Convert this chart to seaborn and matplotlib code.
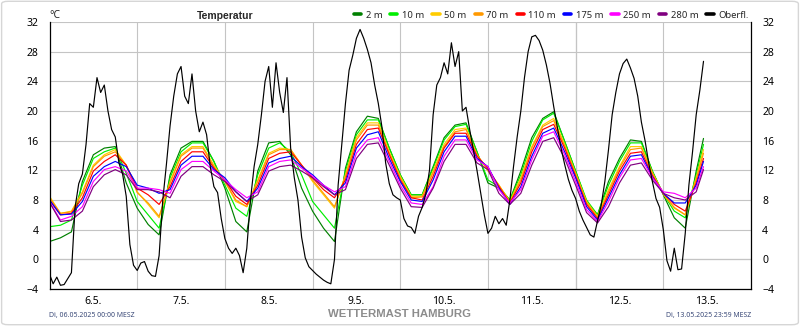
import numpy as np
import pandas as pd
import matplotlib
matplotlib.use("Agg")
import matplotlib.pyplot as plt
import seaborn as sns
from matplotlib.lines import Line2D
from matplotlib.patches import FancyBboxPatch

# Time axes: hours since Di, 06.05.2025 00:00 MESZ
hours_levels = list(range(0, 178, 3)) + [179]
hours_surface = list(range(0, 180))

# Mast temperatures (°C), 3-hourly
temp_2m = [2.4, 2.9, 3.7, 10.5, 14.1, 15.0, 15.2, 10.3, 6.9, 4.7, 3.3, 11.4, 15.0, 15.9, 15.9, 13.2,
           9.6, 5.1, 3.7, 11.9, 15.7, 15.9, 14.1, 9.6, 6.5, 4.2, 2.4, 12.3, 17.2, 19.3, 19.0, 15.0,
           11.4, 8.7, 8.7, 12.5, 16.4, 18.1, 18.4, 14.5, 10.3, 9.6, 8.0, 11.9, 16.4, 19.0, 19.9, 15.9,
           11.9, 7.8, 6.0, 10.5, 13.6, 16.1, 15.9, 11.9, 8.7, 5.6, 4.2, 11.9, 16.3]
temp_10m = [4.4, 4.6, 5.3, 10.0, 13.6, 14.5, 15.0, 11.6, 7.8, 6.0, 4.2, 11.0, 14.5, 15.7, 15.7, 13.2,
            10.0, 6.9, 5.8, 11.4, 15.0, 15.7, 14.5, 11.4, 7.8, 6.0, 4.2, 11.9, 16.8, 18.8, 18.8, 15.0,
            11.4, 8.7, 8.7, 12.3, 16.1, 17.9, 18.2, 14.5, 10.7, 9.8, 8.0, 11.4, 15.9, 18.8, 19.7, 15.9,
            11.9, 8.0, 6.0, 10.0, 13.2, 15.7, 15.7, 11.9, 8.8, 6.5, 5.6, 11.4, 15.5]
temp_50m = [8.5, 6.2, 6.5, 9.1, 12.7, 14.1, 14.8, 12.7, 9.1, 7.4, 5.6, 10.5, 14.1, 15.2, 15.2, 12.7,
            10.5, 7.8, 7.1, 10.7, 14.3, 15.0, 14.8, 12.7, 10.5, 8.7, 6.9, 11.4, 16.4, 18.4, 18.4, 14.5,
            11.2, 8.5, 8.5, 11.9, 15.5, 17.5, 17.7, 14.1, 11.9, 10.0, 7.8, 11.0, 15.2, 18.1, 19.0, 15.5,
            11.6, 7.8, 5.8, 9.4, 12.5, 15.2, 15.2, 11.7, 8.8, 6.9, 6.0, 11.0, 14.8]
temp_70m = [8.3, 6.2, 6.4, 8.9, 12.5, 13.9, 14.5, 12.7, 9.0, 7.6, 5.8, 10.3, 13.9, 15.0, 15.0, 12.5,
            10.5, 8.0, 7.1, 10.5, 14.1, 14.8, 14.8, 12.7, 10.7, 8.9, 7.1, 11.2, 16.1, 18.1, 18.1, 14.3,
            11.0, 8.3, 8.4, 11.7, 15.2, 17.2, 17.5, 14.1, 12.1, 10.0, 7.7, 10.7, 15.0, 17.9, 18.7, 15.3,
            11.5, 7.6, 5.7, 9.1, 12.3, 14.8, 15.0, 11.6, 8.8, 7.0, 6.0, 10.8, 14.3]
temp_110m = [8.0, 6.0, 6.2, 8.3, 11.9, 13.2, 14.1, 12.7, 9.6, 8.7, 7.4, 9.8, 13.2, 14.5, 14.5, 12.3,
             10.7, 8.5, 7.4, 10.0, 13.6, 14.3, 14.5, 12.7, 11.0, 9.4, 8.3, 10.7, 15.5, 17.5, 17.7, 14.1,
             10.7, 8.3, 8.0, 11.2, 15.0, 17.0, 17.0, 13.9, 12.3, 9.8, 7.6, 10.3, 14.5, 17.5, 18.2, 15.0,
             11.2, 7.4, 5.5, 8.7, 11.9, 14.3, 14.5, 11.3, 8.9, 7.4, 6.5, 10.3, 13.6]
temp_175m = [8.0, 6.0, 6.1, 7.8, 11.2, 12.5, 13.2, 12.5, 10.0, 9.6, 8.9, 9.4, 12.7, 13.9, 13.9, 12.1,
             11.0, 9.1, 7.8, 9.6, 13.0, 13.6, 13.9, 12.5, 11.4, 10.0, 8.7, 10.3, 15.0, 16.8, 17.2, 13.6,
             10.5, 8.0, 7.8, 10.7, 14.5, 16.6, 16.6, 13.6, 12.5, 9.6, 7.4, 9.8, 13.9, 17.0, 17.7, 14.5,
             11.0, 7.1, 5.3, 8.3, 11.4, 13.9, 14.1, 11.1, 8.9, 7.6, 7.6, 10.0, 13.2]
temp_250m = [7.8, 5.3, 5.8, 7.1, 10.5, 12.1, 12.5, 11.9, 9.6, 9.6, 9.4, 8.9, 12.1, 13.2, 13.2, 11.9,
             10.7, 9.4, 8.3, 9.1, 12.5, 13.2, 13.4, 12.3, 11.2, 10.0, 9.1, 9.8, 14.3, 16.1, 16.4, 13.2,
             10.0, 7.6, 7.4, 9.8, 13.9, 16.1, 16.1, 13.4, 12.5, 9.4, 7.6, 9.4, 13.4, 16.6, 17.2, 14.1,
             10.5, 6.7, 5.1, 7.8, 11.0, 13.4, 13.6, 11.0, 9.1, 8.9, 8.3, 9.6, 12.5]
temp_280m = [7.7, 5.1, 5.3, 6.5, 9.8, 11.4, 12.1, 11.4, 9.4, 9.4, 9.1, 8.3, 11.2, 12.5, 12.5, 11.4,
             10.5, 9.1, 7.8, 8.7, 11.9, 12.5, 12.7, 11.9, 11.0, 9.8, 8.7, 9.4, 13.6, 15.5, 15.7, 12.7,
             9.6, 7.1, 7.0, 9.6, 13.2, 15.5, 15.5, 13.0, 12.1, 8.9, 7.4, 8.9, 12.7, 15.9, 16.4, 13.6,
             10.0, 6.3, 4.9, 7.1, 10.3, 12.7, 13.0, 10.7, 8.9, 8.3, 8.0, 9.1, 12.1]

# Surface temperature (°C), hourly
temp_surface = [
    -2.0, -3.3, -2.4, -3.5, -3.4, -2.6, -1.8, 7.0, 10.2, 11.5, 15.5, 21.0,
    20.5, 24.5, 22.5, 23.5, 20.0, 17.5, 16.5, 13.0, 11.5, 8.5, 2.0, -0.8,
    -1.5, -0.5, -0.3, -1.6, -2.2, -2.3, 0.5, 8.0, 12.8, 18.0, 22.0, 25.0,
    26.0, 22.0, 21.0, 25.0, 20.0, 17.2, 18.5, 16.8, 12.5, 9.8, 9.0, 5.5,
    2.8, 1.5, 0.8, 1.5, 0.5, -1.8, 1.5, 8.0, 12.5, 15.5, 19.5, 24.0,
    26.0, 20.5, 26.5, 22.5, 19.8, 24.5, 15.0, 11.0, 8.0, 3.0, 0.2, -1.0,
    -1.5, -2.0, -2.4, -2.8, -3.1, -3.3, 0.0, 10.0, 15.5, 21.0, 25.5, 27.5,
    29.8, 31.0, 29.8, 28.3, 26.5, 23.5, 21.0, 17.8, 13.0, 10.2, 8.7, 8.3,
    8.0, 5.5, 4.5, 4.3, 3.5, 5.8, 7.0, 8.8, 12.0, 19.5, 23.5, 24.5,
    26.5, 25.0, 29.2, 26.0, 28.0, 20.0, 20.5, 17.5, 14.8, 12.0, 9.0, 6.0,
    3.5, 4.2, 5.8, 4.8, 5.5, 4.6, 8.0, 12.5, 16.5, 20.0, 24.5, 28.0,
    30.0, 30.2, 29.5, 28.2, 26.2, 23.7, 20.6, 17.8, 15.0, 12.8, 10.8, 9.3,
    8.2, 6.5, 5.3, 4.3, 3.3, 3.0, 5.2, 7.3, 10.5, 14.8, 19.5, 22.5,
    25.0, 26.4, 27.0, 25.8, 24.4, 22.0, 18.5, 16.0, 13.0, 10.5, 8.2, 7.0,
    4.0, -0.2, -1.6, 1.5, -1.4, -1.3, 3.5, 10.0, 14.5, 19.5, 22.8, 26.7,
]

series_names = ["2 m", "10 m", "50 m", "70 m", "110 m", "175 m", "250 m", "280 m", "Oberfl."]
series_colors = ["#008000", "#00ee00", "#ffcc00", "#ff9900", "#ff0000",
                 "#0000ff", "#ff00ff", "#800080", "#000000"]
day_labels = ["6.5.", "7.5.", "8.5.", "9.5.", "10.5.", "11.5.", "12.5.", "13.5."]

level_values = [temp_2m, temp_10m, temp_50m, temp_70m, temp_110m, temp_175m, temp_250m, temp_280m]
frames = []
for name, vals in zip(series_names[:-1], level_values):
    frames.append(pd.DataFrame({"hour": hours_levels, "temp": vals, "series": name}))
frames.append(pd.DataFrame({"hour": hours_surface, "temp": temp_surface, "series": "Oberfl."}))
df = pd.concat(frames, ignore_index=True)

sns.set_theme(style="white")
plt.rcParams["font.family"] = ["Noto Sans", "DejaVu Sans"]
BOLD = ["Liberation Sans", "DejaVu Sans"]

W, H = 800, 326
fig = plt.figure(figsize=(W / 100, H / 100), dpi=100)
x0, x1, y0, y1 = 49.5, 751, 22, 289
ax = fig.add_axes([x0 / W, 1 - y1 / H, (x1 - x0) / W, (y1 - y0) / H])

sns.lineplot(data=df, x="hour", y="temp", hue="series", hue_order=series_names,
             palette=dict(zip(series_names, series_colors)), estimator=None,
             errorbar=None, linewidth=0.85, legend=False, ax=ax)

ax.set_xlim(0, 192)
ax.set_ylim(-4, 32)
ax.set_yticks(range(-4, 33, 4))
ax.set_yticklabels([str(v).replace("-", "\u2212") for v in range(-4, 33, 4)])
ax.set_xticks([12 + 24 * i for i in range(8)])
ax.set_xticklabels(day_labels)
ax.set_xticks([24 * i for i in range(1, 8)], minor=True)
ax.set_xlabel("")
ax.set_ylabel("")

ax.set_axisbelow(True)
ax.grid(axis="y", which="major", color="#c4c4c4", linewidth=0.8)
ax.grid(axis="x", which="minor", color="#c4c4c4", linewidth=0.8)
ax.grid(axis="x", which="major", visible=False)
ax.axhline(0, color="#8c8c8c", linewidth=0.8, zorder=0.5)
ax.axvline(144, color="#8c8c8c", linewidth=0.8, zorder=0.5)

ax.tick_params(axis="both", which="both", length=0, labelsize=7.5, colors="black")
ax.tick_params(axis="y", labelright=True, pad=8)
ax.tick_params(axis="x", pad=5)

for side in ("left", "right", "bottom"):
    ax.spines[side].set_visible(True)
    ax.spines[side].set_color("black")
    ax.spines[side].set_linewidth(0.9)
ax.spines["top"].set_visible(False)

handles = [Line2D([0], [0], color=c, linewidth=2.6) for c in series_colors]
ax.legend(handles, series_names, ncol=9, loc="lower right", bbox_to_anchor=(1.0, 1.0),
          frameon=False, fontsize=6.8, handlelength=0.75, handletextpad=0.5,
          columnspacing=0.85, borderaxespad=0.1, borderpad=0.15)

fig.text(49 / W, 1 - 16 / H, "°C", ha="left", va="center", fontsize=7.5)
fig.text(197 / W, 1 - 16 / H, "Temperatur", ha="left", va="center", fontsize=7.5,
         fontweight="bold", family=BOLD)
fig.text(49 / W, 1 - 315 / H, "Di, 06.05.2025 00:00 MESZ", ha="left", va="center",
         fontsize=5, color="#3b4a78")
fig.text(751 / W, 1 - 315 / H, "Di, 13.05.2025 23:59 MESZ", ha="right", va="center",
         fontsize=5, color="#3b4a78")
fig.text(400 / W, 1 - 314 / H, "WETTERMAST HAMBURG", ha="center", va="center",
         fontsize=8.2, fontweight="bold", color="#8c8c8c", family=BOLD)

fig.patches.append(FancyBboxPatch((0.002, 0.004), 0.996, 0.992,
                                  boxstyle="round,pad=0,rounding_size=0.008",
                                  transform=fig.transFigure, fill=False,
                                  edgecolor="#d6d6d6", linewidth=1.0))

fig.savefig("out.png", dpi=100)
